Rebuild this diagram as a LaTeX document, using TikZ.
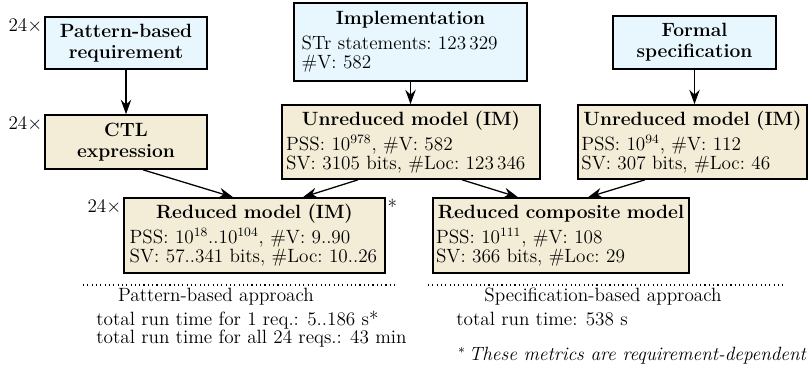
\documentclass[tikz,border=0pt]{standalone}
\usetikzlibrary{arrows.meta}
\definecolor{srcblue}{RGB}{231,247,253}
\definecolor{modbeige}{RGB}{243,236,214}
\newcommand\infofont{\fontsize{12}{12}\selectfont\frenchspacing\lineskiplimit=-20pt\relax}
\newcommand\plainfont{\fontsize{12}{12}\selectfont}
\newcommand\titlefont{\fontsize{12}{13}\selectfont\bfseries}
\begin{document}
\begin{tikzpicture}[x=0.625pt,y=-0.625pt,
  every node/.style={font=\plainfont},
  boxbase/.style={draw, line width=1pt, inner sep=0pt},
  srcbox/.style={boxbase, fill=srcblue},
  modbox/.style={boxbase, fill=modbeige},
  titlebox/.style={align=center, font=\titlefont},
  infobox/.style={align=left, font=\infofont},
  flow/.style={-{Stealth[length=9pt,width=6.5pt,inset=3pt]}, line width=0.8pt},
  mult/.style={anchor=north east, inner sep=1pt},
  sepline/.style={dotted, line width=0.7pt},
]
\useasboundingbox (0,0) rectangle (808,375);

% top row
\node[srcbox, titlebox, minimum width=101.25pt, minimum height=32.5pt] (pbr) at (126,43) {Pattern-based\\requirement};
\node[srcbox, infobox, text width=136pt, minimum width=145.6pt, minimum height=48.75pt] (impl) at (410.5,42)
  {{\centering\textbf{Implementation}\par}\vspace{3.6pt}STr statements: 123\,329\\\#V: 582};
\node[srcbox, titlebox, minimum width=101.9pt, minimum height=33.1pt] (formal) at (694.5,42.5) {Formal\\specification};

% middle row
\node[modbox, titlebox, minimum width=101.25pt, minimum height=33.75pt] (ctl) at (126,142) {CTL\\expression};
\node[modbox, infobox, text width=156pt, minimum width=161.25pt, minimum height=46.25pt] (umm) at (411,142)
  {{\centering\textbf{Unreduced model (IM)}\par}\vspace{3.6pt}PSS: $10^{978}$, \#V: 582\\SV: 3105 bits, \#Loc: 123\,346};
\node[modbox, infobox, text width=139pt, minimum width=143.1pt, minimum height=46.25pt] (umr) at (692.5,142)
  {{\centering\textbf{Unreduced model (IM)}\par}\vspace{3.6pt}PSS: $10^{94}$, \#V: 112\\SV: 307 bits, \#Loc: 46};

% bottom row
\node[modbox, infobox, text width=156pt, minimum width=163.1pt, minimum height=46.9pt] (rm) at (254.5,235.5)
  {{\centering\textbf{Reduced model (IM)}\par}\vspace{3.6pt}PSS: $10^{18}$..$10^{104}$, \#V: 9..90\\SV: 57..341 bits, \#Loc: 10..26};
\node[modbox, infobox, text width=156.25pt, minimum width=160pt, minimum height=46.9pt] (rcm) at (561,235.5)
  {{\centering\textbf{Reduced composite model}\par}\vspace{3.6pt}PSS: $10^{111}$, \#V: 108\\SV: 366 bits, \#Loc: 29};

% multiplicity labels
\node[mult] (m1) at (pbr.north west) {24$\times$};
\node[mult] (m2) at (ctl.north west) {24$\times$};
\node[mult] (m3) at (rm.north west) {24$\times$};
\node[anchor=north west, inner sep=1pt] (star) at (rm.north east) {*};

% connectors
\draw[flow] (pbr.south) -- (ctl.north);
\draw[flow] (impl.south) -- (impl.south |- umm.north);
\draw[flow] (formal.south) -- (formal.south |- umr.north);
\draw[flow] ([xshift=10.6pt]ctl.south) -- ([xshift=-13.4pt]rm.north);
\draw[flow] ([xshift=-33.1pt]umm.south) -- ([xshift=30.3pt]rm.north);
\draw[flow] ([xshift=31.9pt]umm.south) -- ([xshift=-26.9pt]rcm.north);
\draw[flow] ([xshift=-29.7pt]umr.south) -- ([xshift=16.9pt]rcm.north);

% separators and captions
\coordinate (ld1) at (83,285);
\coordinate (ld2) at (395,285);
\coordinate (rd1) at (428,285);
\coordinate (rd2) at (783,285);
\draw[sepline] (ld1) -- (ld2);
\draw[sepline] (rd1) -- (rd2);

\node (pa) at (216,297) {Pattern-based approach};
\node[anchor=base west, inner sep=0pt] (pt1) at (96,325) {total run time for 1 req.: 5..186 s*};
\node[anchor=base west, inner sep=0pt] (pt2) at (96,343) {total run time for all 24 reqs.: 43 min};
\node (sa) at (603,297) {Specification-based approach};
\node[anchor=base west, inner sep=0pt] (st) at (456,325) {total run time: 538 s};
\node[anchor=base east, inner sep=0pt] (fn) at (807,360) {$^*$\,\textit{These metrics are requirement-dependent}};
\end{tikzpicture}
\end{document}
